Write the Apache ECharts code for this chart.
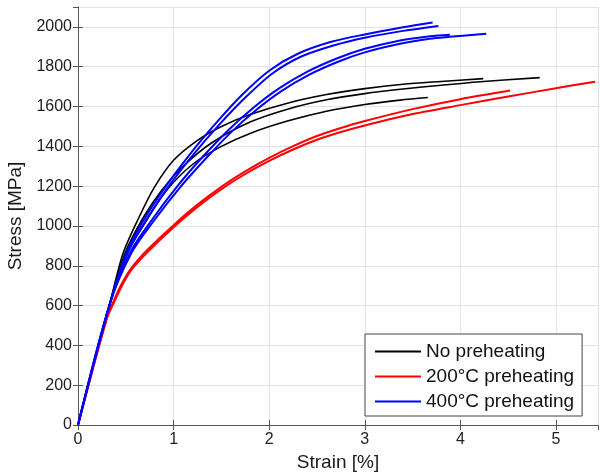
<!DOCTYPE html>
<html>
<head>
<meta charset="utf-8">
<script src="https://cdn.jsdelivr.net/npm/echarts@6/dist/echarts.min.js"></script>
<style>
html,body{margin:0;padding:0;background:#fff;}
#chart{width:600px;height:475px;}
</style>
</head>
<body>
<div id="chart"></div>
<script>
// Axis ticks
const xTicks = [0, 1, 2, 3, 4, 5];
const yTicks = [0, 200, 400, 600, 800, 1000, 1200, 1400, 1600, 1800, 2000];

// Legend labels
const groupNames = ['No preheating', '200°C preheating', '400°C preheating'];

// No preheating (black)
const black1Strain = [0, 0.33, 0.47, 0.64, 0.8, 1.0, 1.25, 1.5, 1.8, 2.2, 2.6, 3.0, 3.4, 3.8, 4.24];
const black1Stress = [0, 604, 860, 1045, 1195, 1330, 1430, 1500, 1560, 1618, 1660, 1690, 1712, 1726, 1740];
const black2Strain = [0, 0.33, 0.49, 0.68, 0.88, 1.1, 1.4, 1.8, 2.2, 2.6, 3.0, 3.4, 3.8, 4.24, 4.83];
const black2Stress = [0, 604, 860, 1040, 1182, 1300, 1418, 1522, 1588, 1634, 1665, 1688, 1707, 1726, 1745];
const black3Strain = [0, 0.33, 0.5, 0.72, 0.92, 1.2, 1.5, 1.8, 2.2, 2.6, 3.0, 3.37, 3.66];
const black3Stress = [0, 604, 850, 1030, 1175, 1310, 1400, 1465, 1528, 1576, 1610, 1632, 1645];

// 200°C preheating (red)
const red1Strain = [0, 0.3, 0.38, 0.46, 0.56, 0.73, 1.0, 1.25, 1.5, 1.75, 2.0, 2.25, 2.5, 2.75, 3.0, 3.5, 4.0, 4.52];
const red1Stress = [0, 540, 630, 712, 790, 882, 1004, 1107, 1197, 1274, 1342, 1401, 1452, 1492, 1527, 1587, 1637, 1680];
const red2Strain = [0, 0.3, 0.38, 0.46, 0.56, 0.73, 1.0, 1.25, 1.5, 1.75, 2.0, 2.25, 2.5, 2.75, 3.0, 3.5, 4.0, 4.5, 5.0, 5.41];
const red2Stress = [0, 530, 620, 700, 780, 870, 994, 1096, 1185, 1261, 1327, 1384, 1433, 1472, 1505, 1562, 1607, 1650, 1692, 1725];

// 400°C preheating (blue)
const blue1Strain = [0, 0.33, 0.52, 0.7, 0.92, 1.17, 1.45, 1.72, 2.0, 2.3, 2.65, 3.0, 3.4, 3.71];
const blue1Stress = [0, 604, 880, 1040, 1200, 1360, 1520, 1660, 1780, 1865, 1925, 1962, 1998, 2022];
const blue2Strain = [0, 0.33, 0.53, 0.72, 0.95, 1.2, 1.48, 1.75, 2.03, 2.33, 2.68, 3.0, 3.4, 3.77];
const blue2Stress = [0, 604, 875, 1035, 1200, 1355, 1510, 1645, 1765, 1850, 1908, 1946, 1980, 2005];
const blue3Strain = [0, 0.33, 0.55, 0.78, 1.04, 1.3, 1.58, 1.85, 2.1, 2.4, 2.7, 3.0, 3.37, 3.68, 3.89];
const blue3Stress = [0, 604, 870, 1035, 1200, 1345, 1485, 1600, 1690, 1775, 1840, 1890, 1932, 1953, 1961];
const blue4Strain = [0, 0.33, 0.56, 0.8, 1.07, 1.33, 1.6, 1.87, 2.12, 2.42, 2.72, 3.0, 3.37, 3.68, 3.89, 4.27];
const blue4Stress = [0, 604, 865, 1030, 1195, 1335, 1470, 1585, 1675, 1760, 1825, 1872, 1915, 1940, 1950, 1966];

const zip = (xs, ys) => xs.map((x, i) => [x, ys[i]]);

const FONT = '"Liberation Sans", Arial, Helvetica, sans-serif';
const X_MAX = 5.44, Y_MAX = 2100;

function curve(name, xs, ys, color, width) {
  return {
    type: 'line', name: name, data: zip(xs, ys),
    showSymbol: false, symbol: 'none', smooth: 0.3,
    lineStyle: { color: color, width: width }, itemStyle: { color: color },
    emphasis: { disabled: true }, animation: false, z: 3
  };
}

const axisLineStyle = { lineStyle: { color: '#555', width: 1 } };

const chart = echarts.init(document.getElementById('chart'), null, { renderer: 'canvas' });
chart.setOption({
  backgroundColor: '#fff',
  animation: false,
  textStyle: { fontFamily: FONT },
  grid: { left: 78, right: 2, top: 7, bottom: 50, containLabel: false, outerBoundsMode: 'none' },
  xAxis: [{
    type: 'value', min: xTicks[0], max: X_MAX, interval: 1,
    name: 'Strain [%]', nameLocation: 'middle', nameGap: 20,
    nameTextStyle: { fontSize: 19, color: '#1a1a1a', fontFamily: FONT },
    axisLine: axisLineStyle,
    axisTick: { inside: true, length: 5, lineStyle: { color: '#555' } },
    axisLabel: { fontSize: 16, color: '#222', margin: 7, showMaxLabel: false, fontFamily: FONT,
                 formatter: v => String(v) },
    splitLine: { show: true, lineStyle: { color: '#e3e3e3', width: 1 } }
  }, {
    type: 'value', position: 'top', min: xTicks[0], max: X_MAX, interval: 1,
    axisLine: axisLineStyle,
    axisTick: { inside: true, length: 5, lineStyle: { color: '#555' } },
    axisLabel: { show: false }, splitLine: { show: false }
  }],
  yAxis: [{
    type: 'value', min: yTicks[0], max: Y_MAX, interval: 200,
    name: 'Stress [MPa]', nameLocation: 'middle', nameGap: 52,
    nameTextStyle: { fontSize: 19, color: '#1a1a1a', fontFamily: FONT },
    axisLine: axisLineStyle,
    axisTick: { inside: true, length: 5, lineStyle: { color: '#555' } },
    axisLabel: { fontSize: 16, color: '#222', margin: 6, showMaxLabel: false, fontFamily: FONT,
                 formatter: v => String(v) },
    splitLine: { show: true, lineStyle: { color: '#e3e3e3', width: 1 } }
  }, {
    type: 'value', position: 'right', min: yTicks[0], max: Y_MAX, interval: 200,
    axisLine: axisLineStyle,
    axisTick: { inside: true, length: 5, lineStyle: { color: '#555' } },
    axisLabel: { show: false }, splitLine: { show: false }
  }],
  legend: {
    data: groupNames,
    left: 365, top: 334, orient: 'vertical',
    backgroundColor: '#fff', borderColor: '#444', borderWidth: 1,
    padding: [8, 8, 5, 10], itemGap: 6, itemWidth: 46, itemHeight: 2,
    icon: 'rect', selectedMode: false,
    textStyle: { fontSize: 19, lineHeight: 19, color: '#111', fontFamily: FONT }
  },
  series: [
    curve(groupNames[0], black1Strain, black1Stress, '#000000', 1.6),
    curve(groupNames[0], black2Strain, black2Stress, '#000000', 1.6),
    curve(groupNames[0], black3Strain, black3Stress, '#000000', 1.6),
    curve(groupNames[1], red1Strain, red1Stress, '#ff0000', 2),
    curve(groupNames[1], red2Strain, red2Stress, '#ff0000', 2),
    curve(groupNames[2], blue1Strain, blue1Stress, '#0000ff', 2),
    curve(groupNames[2], blue2Strain, blue2Stress, '#0000ff', 2),
    curve(groupNames[2], blue3Strain, blue3Stress, '#0000ff', 2),
    curve(groupNames[2], blue4Strain, blue4Stress, '#0000ff', 2)
  ]
});
</script>
</body>
</html>
